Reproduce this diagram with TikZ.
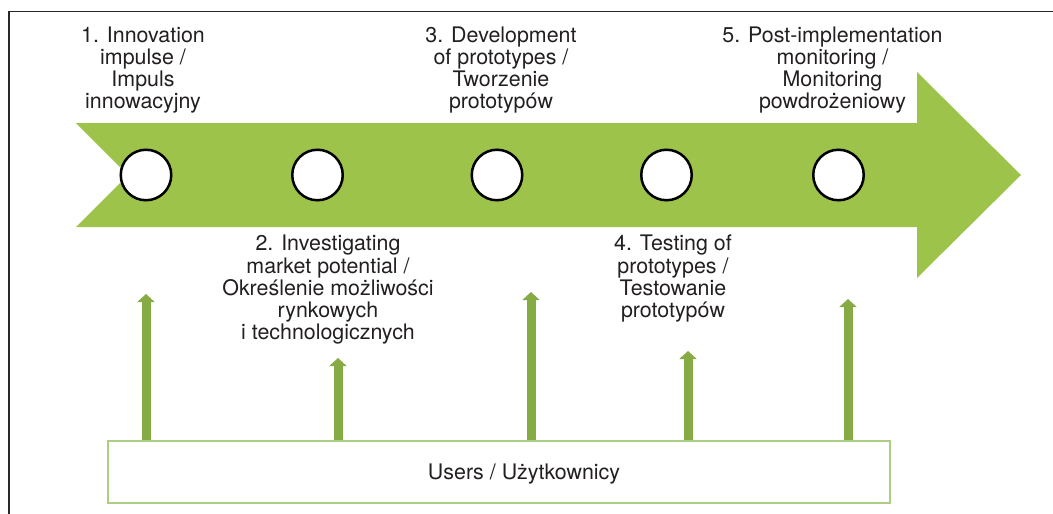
\documentclass[tikz,border=0pt]{standalone}
\usepackage{fontspec}
\setmainfont{TeX Gyre Heros}
\usetikzlibrary{arrows.meta}
\definecolor{bigarrow}{RGB}{157,195,74}
\definecolor{smallarrow}{RGB}{134,170,68}
\definecolor{boxline}{RGB}{172,206,132}
\definecolor{txt}{RGB}{35,31,32}
\definecolor{framec}{RGB}{40,40,40}
\begin{document}
\begin{tikzpicture}[x=1pt,y=-1pt,
  lbl/.style={font=\fontsize{21.4}{22.2}\selectfont, text=txt, align=center, inner sep=0pt, anchor=north},
  stage/.style={circle, draw=black, fill=white, line width=2.5pt, minimum size=50.5pt, inner sep=0pt},
  feed/.style={draw=smallarrow, line width=9pt, -{Triangle[width=17pt,length=8pt]}},
  userbox/.style={draw=boxline, line width=1.5pt, fill=white, minimum width=782pt, minimum height=62pt,
    inner sep=0pt, text height=15pt, text depth=0pt, text=txt, font=\fontsize{21.4}{22.2}\selectfont},
]
\useasboundingbox (0,0) rectangle (1053,514);
\clip (0,0) rectangle (1053,514);
% frame
\draw[framec, line width=1.5pt] (9,540) -- (9,11.5) -- (1080,11.5);
% big arrow
\fill[bigarrow] (76,123) -- (917,123) -- (917,72) -- (1021,175) -- (917,278) -- (917,227) -- (76,227) -- (128,175) -- cycle;
% stages
\node[stage] (s1) at (146,175) {};
\node[stage] (s2) at (317.5,175) {};
\node[stage] (s3) at (497,175) {};
\node[stage] (s4) at (666.5,175) {};
\node[stage] (s5) at (838.5,175) {};
% labels
\node[lbl] (l1) at (143,26.5) {1. Innovation\\impulse /\\Impuls\\innowacyjny};
\node[lbl] (l2) at (328,235) {2. Investigating\\market potential /\\Określenie możliwości\\rynkowych\\i technologicznych};
\node[lbl] (l3) at (501,26.5) {3. Development\\of prototypes /\\Tworzenie\\prototypów};
\node[lbl] (l4) at (673,235) {4. Testing of\\prototypes /\\Testowanie\\prototypów};
\node[lbl] (l5) at (832.5,26.5) {5. Post-implementation\\monitoring /\\Monitoring\\powdrożeniowy};
% users box
\node[userbox] (users) at (499,472) {\hspace*{50pt}Users / Użytkownicy};
% feedback arrows
\coordinate (a1) at (146,294);
\coordinate (a2) at (338,358);
\coordinate (a3) at (531,292);
\coordinate (a4) at (688,351);
\coordinate (a5) at (848,299);
\foreach \i in {1,...,5} {
  \draw[feed] (users.north -| a\i) -- (a\i);
}
\end{tikzpicture}
\end{document}
